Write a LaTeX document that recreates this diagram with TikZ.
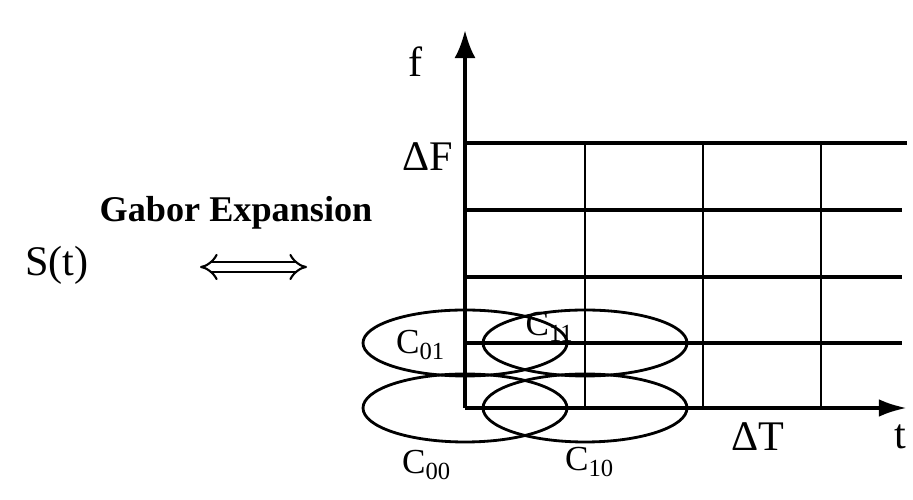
\documentclass[tikz,border=0pt]{standalone}
\usepackage{fontspec}
\setmainfont{Liberation Serif}
\usepackage{tikz}
\usetikzlibrary{arrows.meta, positioning, calc}

\tikzset{
    gridline/.style={line width=1.1pt},
    vline/.style={line width=0.8pt},
    atom/.style={line width=0.8pt},
    clabel/.style={font=\fontsize{10}{11}\selectfont, inner sep=1pt},
    axlabel/.style={font=\fontsize{12}{13}\selectfont, inner sep=1pt}
}

\begin{document}
\begin{tikzpicture}
        \useasboundingbox (0,0) rectangle (9.13,5);

        % Origin and axis ends
        \coordinate (O) at (4.65,0.92);
        \coordinate (ftop) at (4.65,4.70);
        \coordinate (tend) at (9.07,0.92);

        % Grid rows (frequency shifts)
        \foreach \y/\xe in {1.57/9.02, 2.23/9.02, 2.90/9.02, 3.57/9.07} {
            \draw[gridline] (4.65,\y) -- (\xe,\y);
        }
        % Grid columns (time shifts)
        \foreach \x in {5.85, 7.03, 8.21} {
            \draw[vline] (\x,0.92) -- (\x,3.57);
        }

        % Axes
        \draw[line width=1.1pt, -{Latex[length=8pt, width=6pt]}] (O) -- (ftop);
        \draw[line width=1.1pt, -{Latex[length=8pt, width=5pt]}] (O) -- (tend);
        \node[axlabel] (f) at (4.16,4.38) {f};
        \node[axlabel] (t) at (9.0,0.63) {t};
        \node[axlabel] (dF) at (4.28,3.43) {ΔF};
        \node[axlabel] (dT) at (7.58,0.63) {ΔT};

        % Gabor atoms
        \draw[atom] (O) ellipse (1.02 and 0.34);
        \draw[atom] (5.85,0.92) ellipse (1.02 and 0.34);
        \draw[atom] (4.65,1.57) ellipse (1.02 and 0.33);
        \draw[atom] (5.85,1.57) ellipse (1.02 and 0.33);
        \node[clabel] (c01) at (4.21,1.55) {C\textsubscript{01}};
        \node[clabel] (c11) at (5.50,1.73) {C\textsubscript{11}};
        \node[clabel] (c00) at (4.27,0.35) {C\textsubscript{00}};
        \node[clabel] (c10) at (5.90,0.38) {C\textsubscript{10}};

        % Signal and expansion
        \node[font=\fontsize{12}{13}\selectfont] (sig) at (0.57,2.35) {S(t)};
        \node[font=\bfseries\fontsize{10.3}{12}\selectfont] (gabor) at (2.36,2.87) {Gabor Expansion};
        \coordinate (al) at (2.0,2.33);
        \coordinate (ar) at (3.07,2.33);
        \draw[double, double distance=2pt, line width=0.6pt, {Implies}-{Implies}] (al) -- (ar);
    \end{tikzpicture}
\end{document}
